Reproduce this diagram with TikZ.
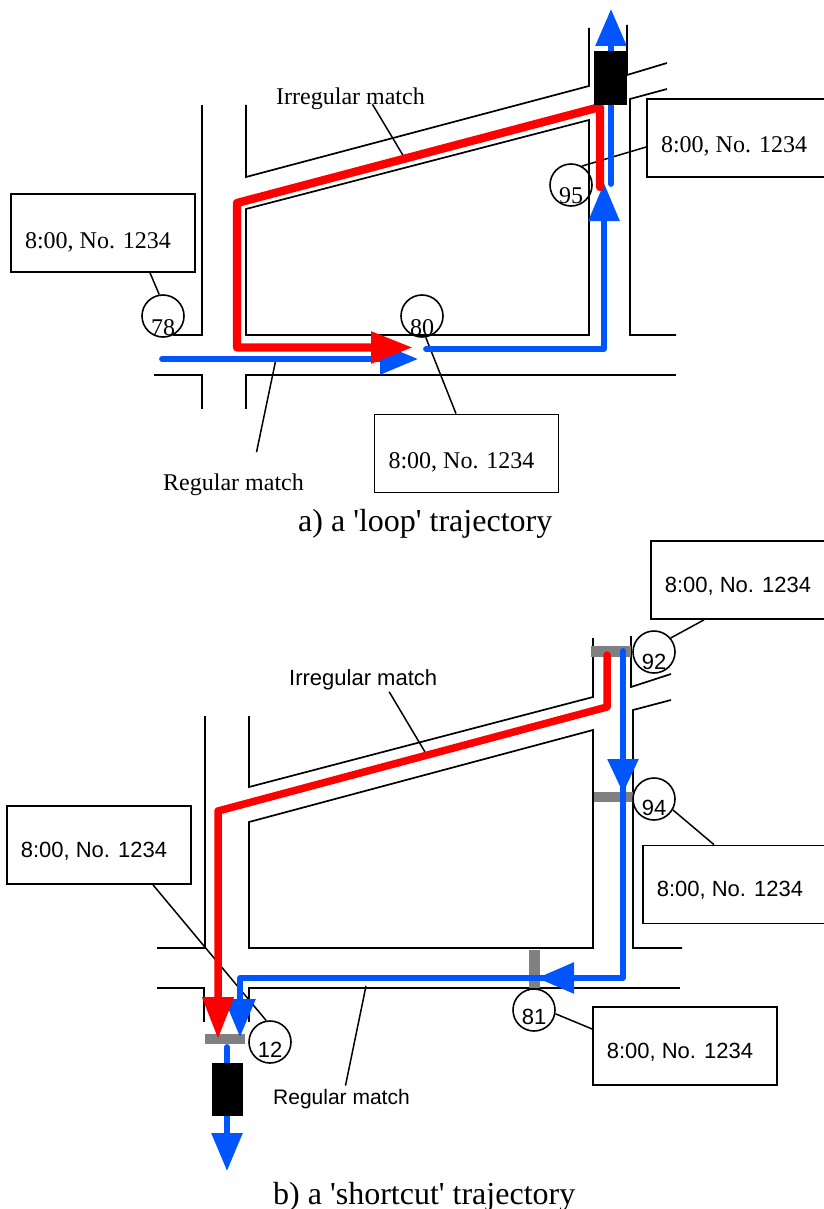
\documentclass[tikz,border=0pt]{standalone}
\usepackage{fontspec}
\setmainfont{Liberation Serif}
\setsansfont{Liberation Sans}
\usepackage{tikz}
\usetikzlibrary{arrows.meta}
\definecolor{routeblue}{HTML}{0055FF}
\definecolor{routered}{HTML}{FF0000}
\definecolor{barcol}{HTML}{808080}
\newcommand{\lowbox}[2]{\raisebox{#1}[0pt][0pt]{\makebox[0pt]{\hspace*{-10pt}#2}}}
\newcommand{\lownum}[2]{\raisebox{#1}[0pt][0pt]{\makebox[0pt]{#2}}}
\tikzset{
  street/.style={line width=1.7pt,line join=miter},
  leader/.style={line width=1.5pt},
  blueroute/.style={routeblue,line width=5.8pt,line cap=round,line join=round},
  redroute/.style={routered,line width=7.5pt,line cap=round,line join=round},
  headtip/.style={-{Triangle[length=#1,width=30pt]}},
  stampbox/.style={draw,line width=1.7pt,minimum width=184pt,minimum height=78pt,inner sep=0pt},
  posnum/.style={draw,circle,line width=1.6pt,minimum size=42pt,inner sep=0pt},
  vehicle/.style={fill=black,draw=none,inner sep=0pt},
  serifA/.style={font=\fontsize{24}{28}\selectfont\rmfamily},
  sansB/.style={font=\fontsize{22}{26}\selectfont\sffamily},
  capt/.style={font=\fontsize{32}{36}\selectfont\rmfamily,inner sep=0pt,anchor=base west},
  tagA/.style={serifA,inner sep=0pt,anchor=base west},
  tagB/.style={sansB,inner sep=0pt,anchor=base west},
}
\begin{document}
\begin{tikzpicture}[x=1pt,y=-1pt]
\useasboundingbox (0,0) rectangle (823,1209);
% ================= (a) loop =================
  \draw[street] (202,105) -- (202,335) -- (173,335);
  \draw[street] (246,105) -- (246,177) -- (589,86) -- (589,28);
  \draw[street] (246,209) -- (589,120) -- (589,335) -- (246,335) -- cycle;
  \draw[street] (627,25) -- (627,75) -- (667,63);
  \draw[street] (667,89) -- (630,99) -- (630,335) -- (676,335);
  \draw[street] (154,375) -- (202,375) -- (202,409);
  \draw[street] (246,409) -- (246,375) -- (676,375);
  % callouts
  \foreach \n/\x/\y in {78/163/316,80/422/316,95/571/185}
      \node[posnum,serifA] (n\n) at (\x,\y) {\lownum{-19pt}{\n}};
  \foreach \n/\x/\y in {78/103/233,80/466.5/453.5,95/739/138}
      \node[stampbox,serifA] (s\n) at (\x,\y) {\lowbox{-15pt}{8:00, No. 1234}};
  \draw[leader] (n78.100) -- ([xshift=47pt]s78.south);
  \draw[leader] (n80.-80) -- ([xshift=-10.5pt]s80.north);
  \draw[leader] (n95.60) -- ([yshift=-9pt]s95.west);
  \node[tagA] (irrA) at (276,105) {Irregular match};
  \node[tagA] (regA) at (163,490) {Regular match};
  \coordinate (irrAend) at (407,162);
  \coordinate (regAend) at (276,359);
  \draw[leader] ([xshift=22pt,yshift=6pt]irrA.south) -- (irrAend);
  \draw[leader] (regAend) -- ([xshift=23pt,yshift=21pt]regA.north);
  % routes
  \draw[blueroute] (162,359) -- (385,359);
  \draw[blueroute,line cap=butt,headtip=38pt] (375,359) -- (418,359);
  \draw[blueroute,headtip=38pt] (426,349) -- (604,349) -- (604,183);
  \draw[blueroute] (611,184) -- (611,60);
  \draw[blueroute,line cap=butt,headtip=37pt] (611,60) -- (611,9);
  \draw[redroute,line width=8.3pt,headtip=42pt] (600,187) -- (600,107) -- (237,203) -- (237,347.5) -- (413,347.5);
  \node[vehicle,minimum width=33pt,minimum height=54pt] (carA) at (610.5,78) {};
  \node[capt] (captA) at (298,531) {a) a \textquotesingle loop\textquotesingle{} trajectory};
% ================= (b) shortcut =================
  \draw[street] (205,716) -- (205,948) -- (157,948);
  \draw[street] (249,716) -- (249,787) -- (593,697) -- (593,638);
  \draw[street] (249,822) -- (593,730) -- (593,948) -- (249,948) -- cycle;
  \draw[street] (631,636) -- (631,687) -- (671,674);
  \draw[street] (671,700) -- (633,710) -- (633,948) -- (682,948);
  \draw[street] (157,988) -- (204,988) -- (204,1022);
  \draw[street] (249,1022) -- (249,988) -- (680,988);
  % detectors
  \foreach \n/\xa/\ya/\xb/\yb in {92/591/646/631/657,94/594/792/633/802,81/529/950/540/988,12/205/1034/245/1044}
      \fill[barcol] (\xa,\ya) rectangle (\xb,\yb);
  % callouts
  \foreach \n/\x/\y/\d in {92/654/652/-17pt,94/654/799/-16pt,81/534/1010/-14pt,12/270/1042/-15pt}
      \node[posnum,sansB] (n\n) at (\x,\y) {\lownum{\d}{\n}};
  \foreach \n/\x/\y in {92/743/580,94/735/884.5,81/685/1046,12/99/845}
      \node[stampbox,sansB] (s\n) at (\x,\y) {\lowbox{-12pt}{8:00, No. 1234}};
  \draw[leader] (n92.40) -- ([xshift=-39pt]s92.south);
  \draw[leader] (n94.-30) -- ([xshift=-21pt]s94.north);
  \draw[leader] (n81.-10) -- ([yshift=17pt]s81.west);
  \draw[leader] (n12.100) -- ([xshift=54pt]s12.south);
  \node[tagB] (irrB) at (289,685) {Irregular match};
  \node[tagB,font=\fontsize{21}{26}\selectfont\sffamily] (regB) at (273,1104) {Regular match};
  \coordinate (irrBend) at (425,752);
  \coordinate (regBend) at (366,986);
  \draw[leader] ([xshift=26pt,yshift=-2pt]irrB.south) -- (irrBend);
  \draw[leader] (regBend) -- ([xshift=4pt,yshift=3pt]regB.north);
  % routes
  \draw[blueroute,headtip=38pt] (623,651) -- (623,978) -- (240,978) -- (240,1037);
  \draw[blueroute,line cap=butt,headtip=34pt] (623,720) -- (623,793);
  \draw[blueroute,line cap=butt,headtip=37pt] (600,978) -- (537,978);
  \draw[blueroute] (227,1047) -- (227,1140);
  \draw[blueroute,line cap=butt,headtip=38pt] (227,1120) -- (227,1171);
  \draw[redroute,headtip=42pt] (607,655) -- (607,707) -- (218,811) -- (218,1039);
  \node[vehicle,minimum width=31pt,minimum height=53pt] (carB) at (227.5,1089.5) {};
  \node[capt] (captB) at (273,1204) {b) a \textquotesingle shortcut\textquotesingle{} trajectory};
\end{tikzpicture}
\end{document}
